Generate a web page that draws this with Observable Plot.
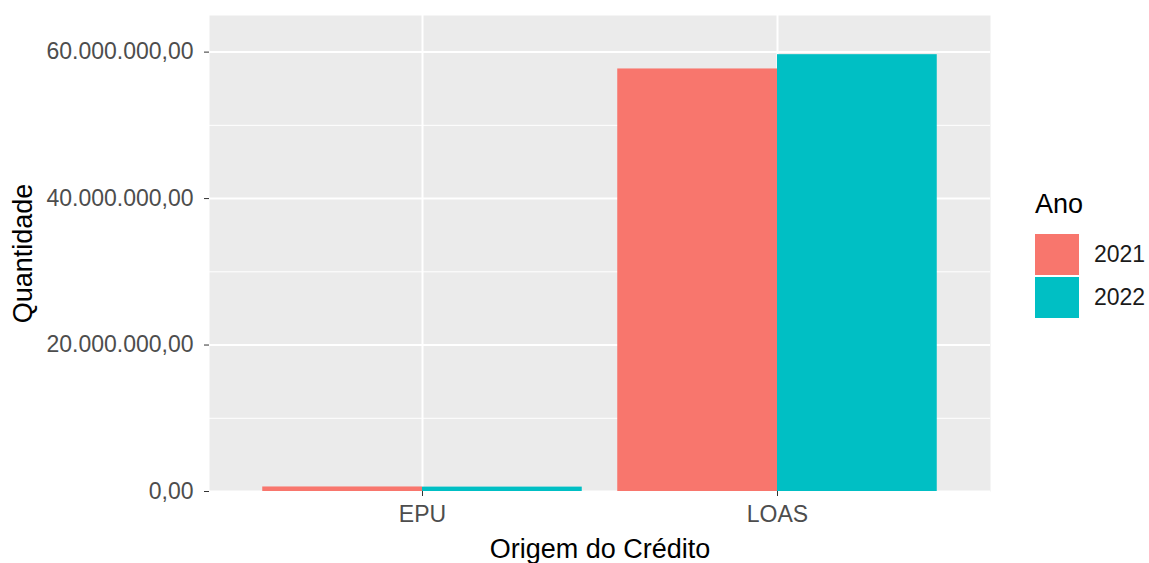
<!DOCTYPE html>
<html><head><meta charset="utf-8">
<script src="https://cdn.jsdelivr.net/npm/d3@7"></script>
<script src="https://cdn.jsdelivr.net/npm/@observablehq/plot@0.6"></script>
<style>
body{margin:0;background:#fff;}
#wrap{position:relative;width:1149px;height:563px;font-family:"Liberation Sans",Arial,sans-serif;overflow:hidden;}
#wrap svg{position:absolute;left:0;top:0;}
g[aria-label="y-axis label"], g[aria-label="x-axis label"]{font-size:27px;fill:#000;}
#legend{position:absolute;left:1035px;top:188px;font-family:"Liberation Sans",Arial,sans-serif;}
#legend .lt{font-size:27px;color:#000;line-height:32px;margin-bottom:13px;}
#legend .row{display:flex;align-items:center;height:43px;}
#legend .sw{width:44px;height:41px;margin-right:15px;}
#legend .lb{font-size:23px;color:#1a1a1a;}
</style></head><body><div id="wrap"></div>
<script>
const categories = ["EPU", "LOAS"];
const years = ["2021", "2022"];
const values2021 = [620000, 57700000];
const values2022 = [600000, 59650000];
const yTicks = [0, 20000000, 40000000, 60000000];
const yMinorTicks = [10000000, 30000000, 50000000];
const colors = ["#F8766D", "#00BFC4"];
const yTitle = "Quantidade";
const xTitle = "Origem do Crédito";
const legendTitle = "Ano";

const series = [values2021, values2022];
const data = [];
categories.forEach((c, i) => {
  series.forEach((vals, j) => {
    data.push({category: c, idx: i, year: years[j], j, value: vals[i]});
  });
});
const barWidth = 0.9;
const n = years.length;
const x1 = d => d.idx - barWidth / 2 + d.j * barWidth / n;
const x2 = d => x1(d) + barWidth / n;
const catIdx = categories.map((c, i) => i);

const ptBR = d3.formatLocale({decimal: ",", thousands: ".", grouping: [3], currency: ["R$ ", ""]});
const fmt = ptBR.format(",.2f");

const plot = Plot.plot({
  width: 1149, height: 563,
  marginLeft: 209, marginRight: 159, marginTop: 15, marginBottom: 72,
  style: {fontFamily: '"Liberation Sans", Arial, sans-serif', fontSize: "23px", color: "#4D4D4D", background: "transparent"},
  x: {domain: [-0.6, categories.length - 1 + 0.6]},
  y: {domain: [0, 65000000]},
  color: {domain: years, range: colors},
  marks: [
    Plot.frame({fill: "#EBEBEB", stroke: "none"}),
    Plot.gridY(yMinorTicks, {stroke: "white", strokeOpacity: 1, strokeWidth: 1}),
    Plot.gridY(yTicks, {stroke: "white", strokeOpacity: 1, strokeWidth: 2}),
    Plot.gridX(catIdx, {stroke: "white", strokeOpacity: 1, strokeWidth: 2}),
    Plot.rect(data, {x1, x2, y1: 0, y2: "value", fill: "year"}),
    Plot.axisY(yTicks, {tickFormat: fmt, tickSize: 5, tickPadding: 11, stroke: "#333", label: yTitle, labelArrow: "none", labelAnchor: "center", labelOffset: 197}),
    Plot.axisX(catIdx, {tickFormat: i => categories[i], tickSize: 5, tickPadding: 9, stroke: "#333", label: xTitle, labelArrow: "none", labelAnchor: "center", labelOffset: 66})
  ]
});
// strip any direction arrows from axis labels
plot.querySelectorAll('g[aria-label="y-axis label"] text, g[aria-label="x-axis label"] text').forEach(t => {
  t.textContent = t.textContent.replace(/\s*[→←↑↓]\s*/g, "").trim();
});
const wrap = document.getElementById("wrap");
wrap.appendChild(plot);

const leg = document.createElement("div");
leg.id = "legend";
const lt = document.createElement("div");
lt.className = "lt"; lt.textContent = legendTitle;
leg.appendChild(lt);
years.forEach((y, i) => {
  const row = document.createElement("div"); row.className = "row";
  const sw = document.createElement("div"); sw.className = "sw"; sw.style.background = colors[i];
  const lb = document.createElement("div"); lb.className = "lb"; lb.textContent = y;
  row.appendChild(sw); row.appendChild(lb); leg.appendChild(row);
});
wrap.appendChild(leg);
</script></body></html>
